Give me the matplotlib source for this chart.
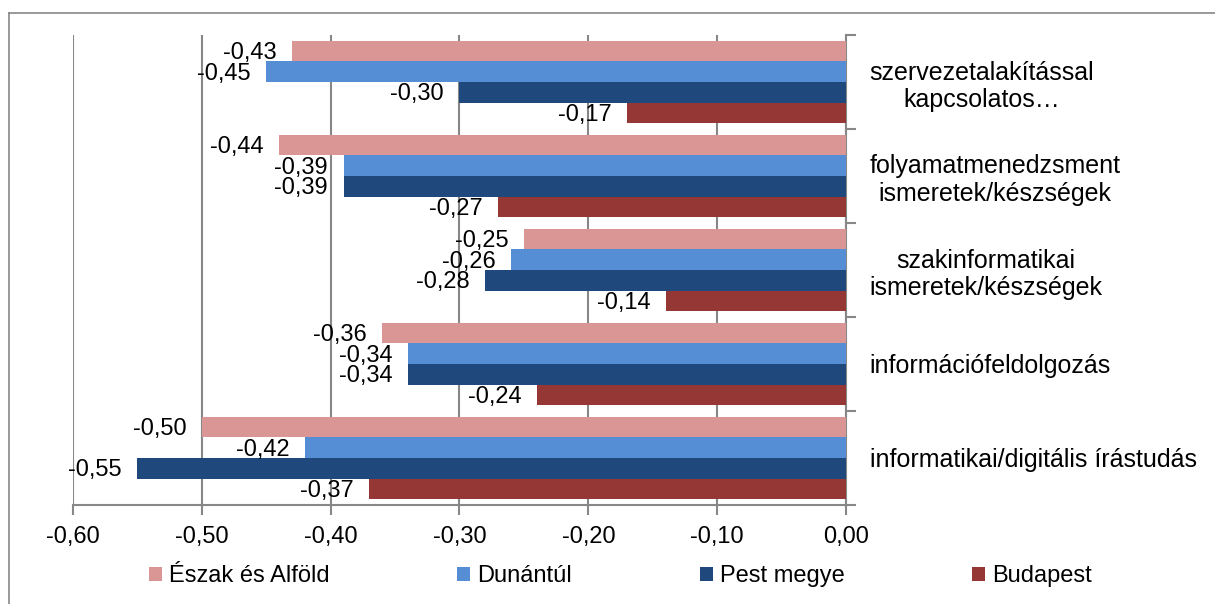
import numpy as np
import matplotlib.pyplot as plt
from matplotlib.lines import Line2D

plt.rcParams['font.family'] = ['Liberation Sans', 'DejaVu Sans']

# categories from top to bottom
categories = [
    "szervezetalakítással\nkapcsolatos…",
    "folyamatmenedzsment\nismeretek/készségek",
    "szakinformatikai\nismeretek/készségek",
    "információfeldolgozás",
    "informatikai/digitális írástudás",
]
series_names = ["Észak és Alföld", "Dunántúl", "Pest megye", "Budapest"]
eszak = [-0.43, -0.44, -0.25, -0.36, -0.50]
dunantul = [-0.45, -0.39, -0.26, -0.34, -0.42]
pest = [-0.30, -0.39, -0.28, -0.34, -0.55]
budapest = [-0.17, -0.27, -0.14, -0.24, -0.37]
colors = ["#D99694", "#558ED5", "#1F497D", "#953735"]
xticks = [-0.60, -0.50, -0.40, -0.30, -0.20, -0.10, 0.00]

fs = 17

def fmt(v):
    return f"{v:.2f}".replace(".", ",")

fig = plt.figure(figsize=(12.15, 6.04), dpi=100)
ax = fig.add_axes([73 / 1215, 1 - 505 / 604, (846 - 73) / 1215, (505 - 35) / 604])

n = len(categories)
centers = np.arange(n)[::-1].astype(float)  # top category at highest y
bar_h = 0.22
offsets = np.array([1.5, 0.5, -0.5, -1.5]) * bar_h

for vals, name, col, off in zip([eszak, dunantul, pest, budapest], series_names, colors, offsets):
    ypos = centers + off
    ax.barh(ypos, vals, height=bar_h, color=col, label=name, zorder=3)
    for y, v in zip(ypos, vals):
        ax.text(v - 0.012, y - 0.02, fmt(v), ha='right', va='center', fontsize=fs, zorder=4)

ax.set_xlim(-0.60, 0.0)
ax.set_ylim(-0.5, n - 0.5)
ax.set_xticks(xticks)
ax.set_xticklabels([fmt(t) for t in xticks], fontsize=fs)
ax.xaxis.grid(True, color="#878787", linewidth=1.5, zorder=0)

# category axis on the right at x = 0
ax.yaxis.tick_right()
ax.set_yticks(centers)
ax.set_yticklabels(categories, fontsize=18)
for lab in ax.get_yticklabels():
    lab.set_multialignment('center')
ax.set_yticks(np.arange(n + 1) - 0.5, minor=True)
ax.tick_params(axis='y', which='major', length=0, pad=17)
ax.tick_params(axis='y', which='minor', length=7, width=1.5, color="#878787", right=True, left=False)
ax.tick_params(axis='x', length=7, width=1.5, color="#878787", pad=8)

for s in ['top', 'left']:
    ax.spines[s].set_visible(False)
ax.spines['right'].set_color("#878787")
ax.spines['right'].set_linewidth(1.5)
ax.spines['bottom'].set_color("#878787")
ax.spines['bottom'].set_linewidth(1.5)

fig.legend(loc='center left', bbox_to_anchor=(149 / 1215, 1 - 576 / 604), ncol=4, frameon=False,
           fontsize=fs, handlelength=0.55, handleheight=0.55, handletextpad=0.3,
           columnspacing=5.4, borderpad=0, borderaxespad=0)

# outer chart border
fig.add_artist(Line2D([9 / 1215, 9 / 1215], [0, 1 - 13 / 604], transform=fig.transFigure,
                      color="#878787", linewidth=1.2))
fig.add_artist(Line2D([9 / 1215, 1], [1 - 13 / 604, 1 - 13 / 604], transform=fig.transFigure,
                      color="#878787", linewidth=1.2))

fig.savefig("out.png", dpi=100)
